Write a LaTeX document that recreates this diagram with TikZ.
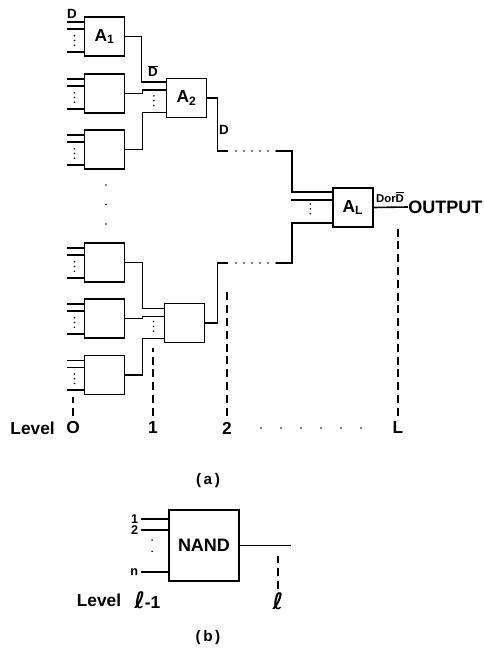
\documentclass[tikz,border=0pt]{standalone}
\usepackage{fontspec}
\setmainfont{Liberation Sans}
\newfontfamily\ellfont{DejaVu Sans}
\usetikzlibrary{
  positioning,
  calc
}
\tikzset{
  gate/.style={
    draw, line width=1.2pt, minimum width=30pt, minimum height=29.25pt, inner sep=0pt, outer sep=0pt,
    font=\fontsize{13}{13}\selectfont\bfseries, align=center
  },
  wire/.style={line width=1.2pt},
  dashline/.style={line width=1.1pt, dash pattern=on 6pt off 3.6pt},
  dotline/.style={line width=1.3pt, line cap=round, dash pattern=on 0pt off 3.6pt},
  sparsedots/.style={line width=1.4pt, line cap=round, dash pattern=on 0pt off 6pt},
  levelrow/.style={line width=1.4pt, line cap=round, dash pattern=on 0pt off 15pt},
  lab/.style={inner sep=0pt, font=\fontsize{10}{10}\selectfont\bfseries},
  smalllab/.style={inner sep=0pt, font=\fontsize{8.5}{8.5}\selectfont\bfseries},
  levellab/.style={inner sep=0pt, font=\fontsize{13}{13}\selectfont\bfseries},
  biglab/.style={inner sep=0pt, font=\fontsize{13.5}{13.5}\selectfont\bfseries},
  lvlnum/.style={inner sep=0pt, font=\fontsize{13}{13}\selectfont\bfseries},
  caption/.style={inner sep=0pt, font=\fontsize{11.5}{11.5}\selectfont\bfseries}
}
\begin{document}
\begin{tikzpicture}[x=0.75pt, y=-0.75pt]
  \useasboundingbox (0,0) rectangle (485,650);
  % first tree of gates
  \node[gate] (aone) at (104.5,36.5) {A\textsubscript{1}};
  \node[gate, below=13.5pt of aone] (gtwo) {};
  \node[gate, below=12.75pt of gtwo] (gthree) {};
  \node[gate, right=31.5pt of gtwo, yshift=-3.4pt] (atwo) {A\textsubscript{2}};
  % lower tree
  \node[gate, below=55.5pt of gthree] (gfour) {};
  \node[gate, below=12.75pt of gfour] (gfive) {};
  \node[gate, below=13pt of gfive] (gsix) {};
  \node[gate, right=30pt of gfive, yshift=-3.4pt] (glast) {};
  \node[gate] (al) at (353,207.5) {A\textsubscript{L}};
  \coordinate (dtopa) at (228,151);
  \coordinate (dtopb) at (276,151);
  \coordinate (dbota) at (228,263);
  \coordinate (dbotb) at (276,263);
  % inputs at level 0
  \foreach \g in {aone,gtwo,gthree,gfour,gfive,gsix} {
    \draw[wire] ([yshift=-3.8pt]\g.north west) -- ++(-18,0);
    \draw[wire] ([yshift=-9.2pt]\g.north west) -- ++(-18,0);
    \draw[wire] ([yshift=-26.2pt]\g.north west) -- ++(-18,0);
    \draw[dotline] ([xshift=-7.5pt,yshift=-14pt]\g.north west) -- ++(0,13);
  }
  % gates feeding level 2
  \draw[wire] (aone.east) -- ++(17,0) |- ([yshift=-2.6pt]atwo.north west);
  \draw[wire] (gtwo.east) -- ++(18,0) |- ([yshift=-8.6pt]atwo.north west);
  \draw[wire] (gthree.east) -- ++(18,0) |- ([yshift=-25.6pt]atwo.north west);
  \draw[dotline] ([xshift=-9.5pt,yshift=-13pt]atwo.north west) -- ++(0,13);
  \draw[wire] (gfour.east) -- ++(18,0) |- ([yshift=-3.8pt]glast.north west);
  \draw[wire] (gfive.east) -- ++(18,0) |- ([yshift=-9.8pt]glast.north west);
  \draw[wire] (gsix.east) -- ++(18,0) |- ([yshift=-26.2pt]glast.north west);
  \draw[dotline] ([xshift=-8.2pt,yshift=-13.5pt]glast.north west) -- ++(0,10);
  % to the last gate
  \draw[wire] (atwo.east) -- ++(11,0) |- (dtopa);
  \draw[wire] (glast.east) -- ++(13,0) |- (dbota);
  \draw[sparsedots] (dtopa) ++(8,0) -- (dtopb);
  \draw[sparsedots] (dbota) ++(8,0) -- (dbotb);
  \draw[wire] (dtopb) -- ++(16,0) |- ([yshift=-3pt]al.north west);
  \draw[wire] (dbotb) -- ++(16,0) |- ([yshift=-26.2pt]al.north west);
  \draw[wire] ([yshift=-9pt]al.north west) -- ++(-42,0);
  \draw[dotline] ([xshift=-17pt,yshift=-12pt]al.north west) -- ++(0,11);
  \node[biglab, anchor=west] (out) at (408,207) {OUTPUT};
  \draw[wire] (al.east) -- (out.west);
  % signal labels
  \node[lab] (lbd) at (72,14) {D};
  \node[lab] (lbnd) at (153,71) {$\overline{\mbox{D}}$};
  \node[lab] (lbdd) at (224,130) {D};
  \node[smalllab] (lbor) at (390,197) {Dor$\overline{\mbox{D}}$};
  % vertical dots between the trees
  \draw[sparsedots, dash pattern=on 0pt off 14.6pt] (106,185) coordinate (vdots) -- ++(0,40);
  % levels
  \node[levellab, anchor=east] (lev) at (55,428) {Level};
  \node[lvlnum] (lvlo) at (73,428) {O};
  \node[lvlnum] (lvlone) at (153,428) {1};
  \node[lvlnum] (lvltwo) at (227,428) {2};
  \node[lvlnum] (lvll) at (398,428) {L};
  \draw[dashline] (lvlo.north) ++(0,-6) -- ++(0,-19);
  \draw[dashline] (lvlone.north) ++(0,-6) -- ++(0,-68);
  \draw[dashline] (lvltwo.north) ++(0,-6) -- ++(0,-128);
  \draw[dashline] (lvll.north) ++(0,-6) -- ++(0,-188);
  \draw[levelrow] ($(lvltwo)+(34,0)$) -- ($(lvll)+(-36,0)$);
  \node[caption] (capa) at (208,481) {(\,a\,)};
  % the single gate of part b
  \node[gate, minimum width=52.5pt, minimum height=53pt, font=\fontsize{13.5}{13.5}\selectfont\bfseries] (nand) at (204,545.5) {NAND};
  \draw[wire] ([yshift=-6.7pt]nand.north west) -- ++(-28,0) node[smalllab, font=\fontsize{9.5}{9.5}\selectfont\bfseries, left=1.5pt] (inone) {1};
  \draw[wire] ([yshift=-15pt]nand.north west) -- ++(-28,0) node[smalllab, font=\fontsize{9.5}{9.5}\selectfont\bfseries, left=1.5pt] (intwo) {2};
  \draw[wire] ([yshift=-46.5pt]nand.north west) -- ++(-28,0) node[smalllab, font=\fontsize{9.5}{9.5}\selectfont\bfseries, left=1.5pt] (inn) {n};
  \draw[dotline, dash pattern=on 0pt off 8.4pt] ([xshift=-12.7pt,yshift=-22.5pt]nand.north west) -- ++(0,18);
  \draw[wire] (nand.east) -- ++(52,0) coordinate (nandout);
  \node[levellab] (lvlb) at (99,600) {Level};
  \node[levellab, anchor=west] (lvlbm) at (134,600) {{\ellfont\bfseries\fontsize{17}{17}\selectfont ℓ}-1};
  \node[levellab] (lvlbl) at (278,601) {{\ellfont\bfseries\fontsize{17}{17}\selectfont ℓ}};
  \draw[dashline, dash pattern=on 6pt off 4pt] (lvlbl.north) ++(0,-3) -- ++(0,-33);
  \node[caption] (capb) at (208,638) {(\,b\,)};
\end{tikzpicture}
\end{document}
